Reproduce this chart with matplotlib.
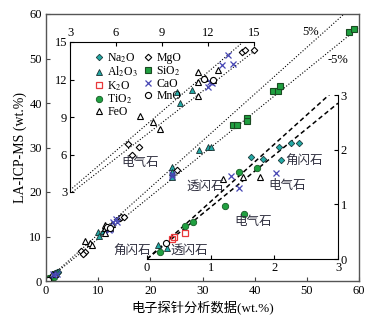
import matplotlib
matplotlib.use('Agg')
import numpy as np
import matplotlib.pyplot as plt
from matplotlib.lines import Line2D

plt.rcParams['font.family'] = ['Liberation Serif', 'Noto Sans CJK SC']
plt.rcParams['mathtext.fontset'] = 'stix'

# ---------------- data (EPMA x, LA-ICP-MS y), wt.% ----------------
na2o_x = [1.64, 1.82, 2.07, 2.26, 2.38, 2.10]
na2o_y = [1.87, 1.83, 2.04, 2.13, 2.13, 1.81]
al2o3_x = [0.17, 0.31, 9.96, 10.94, 10.17, 24.1, 24.1, 24.1, 29.3, 31.0, 31.6]
al2o3_y = [0.26, 0.20, 11.0, 11.16, 10.1, 25.6, 24.4, 23.3, 29.4, 30.1, 30.1]
k2o_x = [0.39, 0.42, 0.59]
k2o_y = [0.37, 0.40, 0.47]
tio2_x = [0.20, 0.59, 0.72, 1.45, 1.73, 1.22, 1.53]
tio2_y = [0.12, 0.61, 0.67, 1.60, 1.66, 0.97, 0.82]
feo_x = [1.19, 1.50, 1.78, 7.57, 8.40, 8.87, 11.37, 12.67, 11.37, 11.80, 12.35, 11.33]
feo_y = [1.47, 1.50, 1.50, 9.08, 8.60, 8.03, 12.60, 12.76, 11.82, 12.10, 12.00, 10.68]
mgo_x = [6.78, 7.50, 7.04, 14.20, 14.40, 15.00, 25.2]
mgo_y = [6.84, 6.60, 5.96, 14.17, 14.36, 14.36, 24.9]
sio2_x = [35.8, 36.6, 38.6, 38.6, 43.6, 44.4, 44.9, 58.1, 59.0]
sio2_y = [35.0, 35.0, 36.6, 36.0, 42.7, 42.7, 43.8, 56.0, 56.6]
cao_x = [1.32, 1.45, 2.02, 13.33, 12.90, 13.65, 12.13, 12.24, 12.00, 24.1, 24.1]
cao_y = [1.52, 1.29, 1.57, 13.96, 13.16, 13.24, 11.80, 11.70, 11.40, 24.0, 23.6]
mno_x = [0.30, 11.75, 12.30]
mno_y = [0.30, 12.05, 12.00]

labels = ['Na$_2$O', 'Al$_2$O$_3$', 'K$_2$O', 'TiO$_2$', 'FeO',
          'MgO', 'SiO$_2$', 'CaO', 'MnO']
series = [(na2o_x, na2o_y), (al2o3_x, al2o3_y), (k2o_x, k2o_y), (tio2_x, tio2_y),
          (feo_x, feo_y), (mgo_x, mgo_y), (sio2_x, sio2_y), (cao_x, cao_y), (mno_x, mno_y)]

main_ticks = [0, 10, 20, 30, 40, 50, 60]
in1_ticks = [3, 6, 9, 12, 15]
in2_ticks = [0, 1, 2, 3]

teal = '#22aaa6'
green = '#20a040'
blue = '#4646b4'
red = '#e8383a'
styles = [
    dict(marker='D', ms=3.3, mfc=teal, mec='#1a3a3a', mew=0.6),
    dict(marker='^', ms=4.4, mfc=teal, mec='#1a3030', mew=0.6),
    dict(marker='s', ms=4.3, mfc='none', mec=red, mew=0.9),
    dict(marker='o', ms=4.6, mfc=green, mec='#155a25', mew=0.6),
    dict(marker='^', ms=4.4, mfc='white', mec='k', mew=0.8),
    dict(marker='D', ms=3.3, mfc='white', mec='k', mew=0.8),
    dict(marker='s', ms=4.6, mfc=green, mec='#1a4a22', mew=0.8),
    dict(marker='x', ms=5.0, mfc='none', mec=blue, mew=0.9),
    dict(marker='o', ms=4.4, mfc='white', mec='k', mew=0.8),
]

W, H = 371, 319
fig = plt.figure(figsize=(W / 100, H / 100), dpi=100)


def rect(l, t, r, b):
    return [l / W, 1 - b / H, (r - l) / W, (b - t) / H]


ax = fig.add_axes(rect(46, 14, 359, 281))
ax1 = fig.add_axes(rect(70, 42, 254, 192))
ax2 = fig.add_axes(rect(147, 95, 338, 259))
for a in (ax1, ax2):
    a.patch.set_alpha(0)

# main axes
lim = np.array([0, 60])
ax.plot(lim, 1.05 * lim, ls=':', color='k', lw=0.8)
ax.plot(lim, 0.95 * lim, ls=':', color='k', lw=0.8)
for (x, y), st in zip(series, styles):
    ax.plot(x, y, ls='none', **st)
ax.set_xlim(0, 60)
ax.set_ylim(0, 60)
ax.set_xticks(main_ticks)
ax.set_yticks(main_ticks)
ax.tick_params(direction='in', length=3, labelsize=9, pad=3, color='#444')
for s in ax.spines.values():
    s.set_color('#555')
    s.set_linewidth(1.0)
ax.set_xlabel('电子探针分析数据(wt.%)', fontsize=9.5, labelpad=2)
ax.set_ylabel('LA-ICP-MS (wt.%)', fontsize=10, labelpad=2)
ax.text(50.8, 56.0, '5%', fontsize=9, ha='center', va='center')
ax.text(55.9, 49.7, '-5%', fontsize=9, ha='center', va='center')


def plot_inset(a, lo, hi):
    for (x, y), st in zip(series, styles):
        x = np.asarray(x); y = np.asarray(y)
        m = (x >= lo - 0.05) & (x <= hi + 0.05) & (y >= lo - 0.05) & (y <= hi + 0.05)
        a.plot(x[m], y[m], ls='none', clip_on=False, **st)
    a.set_xlim(lo, hi)
    a.set_ylim(lo, hi)


# inset 1 (3-15)
l1 = np.array([3, 15])
ax1.plot(l1, 1.05 * l1, ls=':', color='k', lw=0.8)
ax1.plot(l1, 0.95 * l1, ls=':', color='k', lw=0.8)
plot_inset(ax1, 3, 15)
ax1.set_xticks(in1_ticks)
ax1.set_yticks(in1_ticks)
ax1.spines['right'].set_visible(False)
ax1.spines['bottom'].set_visible(False)
ax1.xaxis.tick_top()
ax1.tick_params(direction='in', length=3, labelsize=9, pad=2)
ax1.text(7.6, 5.35, '电气石', fontsize=9, color='#303040', ha='center', va='center')

handles = [Line2D([], [], ls='none', **st) for st in styles]
leg = ax1.legend(handles, labels, ncol=2, loc='upper left', bbox_to_anchor=(0.11, 0.97),
                 frameon=False, fontsize=8.5, handlelength=0.7, handletextpad=0.35,
                 labelspacing=0.0, columnspacing=0.5, borderaxespad=0)

# inset 2 (0-3)
l2 = np.array([0, 3])
ax2.plot(l2, 1.05 * l2, ls='--', dashes=(3, 2), color='k', lw=1.1)
ax2.plot(l2, 0.95 * l2, ls='--', dashes=(3, 2), color='k', lw=1.1)
plot_inset(ax2, 0, 3)
ax2.set_xticks(in2_ticks)
ax2.set_yticks(in2_ticks)
ax2.spines['left'].set_visible(False)
ax2.spines['top'].set_visible(False)
ax2.yaxis.tick_right()
ax2.tick_params(direction='in', length=3, labelsize=9, pad=2)
txt = dict(fontsize=9, color='#303040', ha='center', va='center', clip_on=False)
ax2.text(2.47, 1.79, '角闪石', **txt)
ax2.text(2.20, 1.33, '电气石', **txt)
ax2.text(1.66, 0.68, '电气石', **txt)
ax2.text(0.91, 1.32, '透闪石', **txt)
ax2.text(-0.23, 0.15, '角闪石', **txt)
ax2.text(0.66, 0.15, '透闪石', **txt)

fig.savefig('out.png', dpi=100)
